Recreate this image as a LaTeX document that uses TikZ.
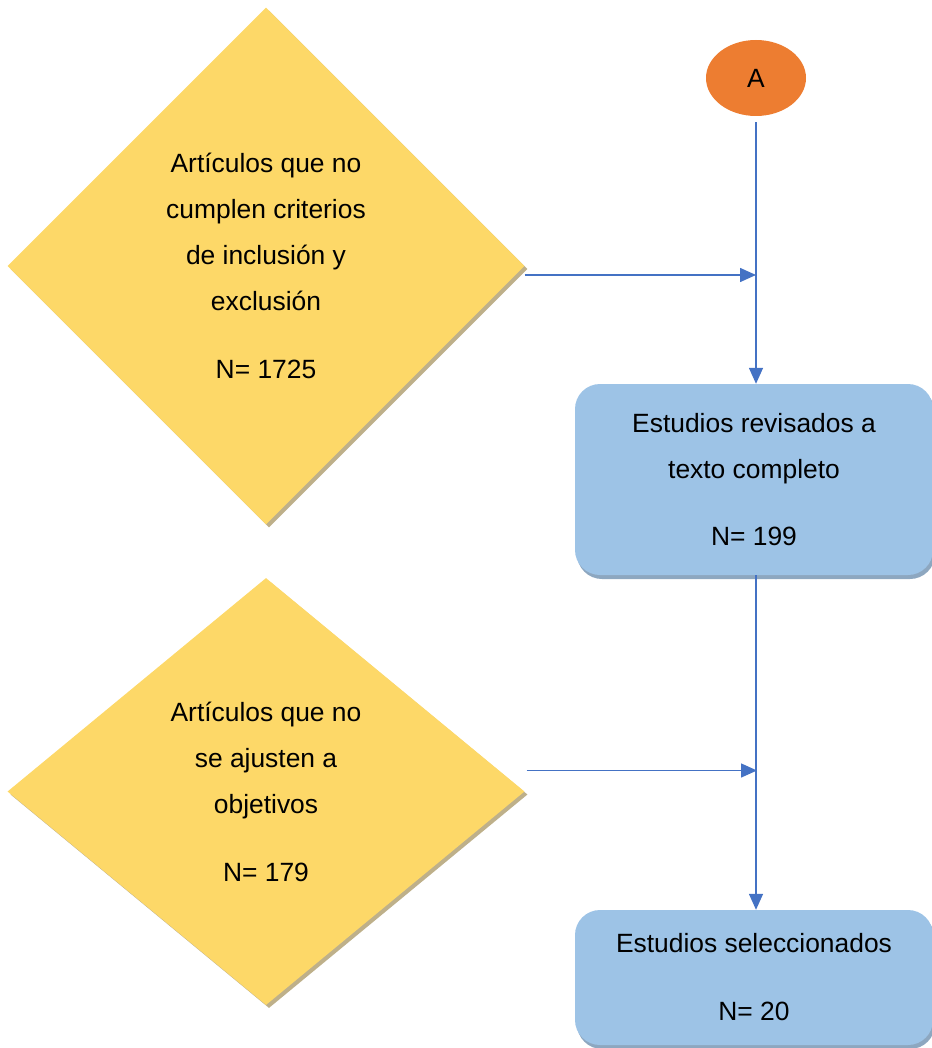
\documentclass[tikz,border=0pt]{standalone}
\usepackage{fontspec}
\setmainfont{Liberation Sans}
\usetikzlibrary{shapes.geometric,arrows.meta,shadows}
\definecolor{dgold}{HTML}{FDD868}
\definecolor{dshadow}{HTML}{BEB08A}
\definecolor{bblue}{HTML}{9DC3E6}
\definecolor{bshadow}{HTML}{8DA7C0}
\definecolor{aorange}{HTML}{ED7D31}
\definecolor{lblue}{HTML}{4472C4}
\tikzset{
  txt/.style={font=\fontsize{26.4pt}{46pt}\selectfont, align=center, text=black},
  dia/.style={shape=diamond, fill=dgold, inner sep=0pt, txt,
    drop shadow={opacity=1, fill=dshadow, shadow xshift=3pt, shadow yshift=-3pt}},
  bbox/.style={shape=rectangle, rounded corners=25pt, fill=bblue, inner sep=0pt, txt,
    minimum width=358pt,
    drop shadow={opacity=1, fill=bshadow, shadow xshift=2pt, shadow yshift=-4pt}},
  conn/.style={draw=lblue, line width=1.5pt, -{Triangle[length=16pt,width=14pt]}}
}
\begin{document}
\begin{tikzpicture}[x=1pt,y=-1pt]
\useasboundingbox (0,0) rectangle (931,1048);
\node[dia, minimum width=517pt, minimum height=517pt] (d1) at (266,266)
  {Artículos que no\\cumplen criterios\\de inclusión y\\exclusión\\[22pt]N= 1725};
\node[dia, minimum width=517pt, minimum height=427pt] (d2) at (266,791.5)
  {Artículos que no\\se ajusten a\\objetivos\\[22pt]N= 179};
\node[ellipse, fill=aorange, minimum width=100pt, minimum height=76pt, inner sep=0pt, txt] (A) at (756,78) {A};
\node[bbox, minimum height=191pt] (b1) at (754,479.5)
  {Estudios revisados a\\texto completo\\[21pt]N= 199};
\node[bbox, minimum height=135pt] (b2) at (754,977.5)
  {Estudios seleccionados\\[22pt]N= 20};
\coordinate (j1) at (756,275);
\coordinate (j2) at (757,770.5);
\draw[conn, shorten <=6pt] (A.south) -- (A.south |- b1.north);
\draw[conn] ([yshift=-9pt]d1.east) -- (j1);
\draw[conn] (b1.south -| A.south) -- (b2.north -| A.south);
\draw[conn] ([xshift=2pt,yshift=21pt]d2.east) -- (j2);
\end{tikzpicture}
\end{document}
